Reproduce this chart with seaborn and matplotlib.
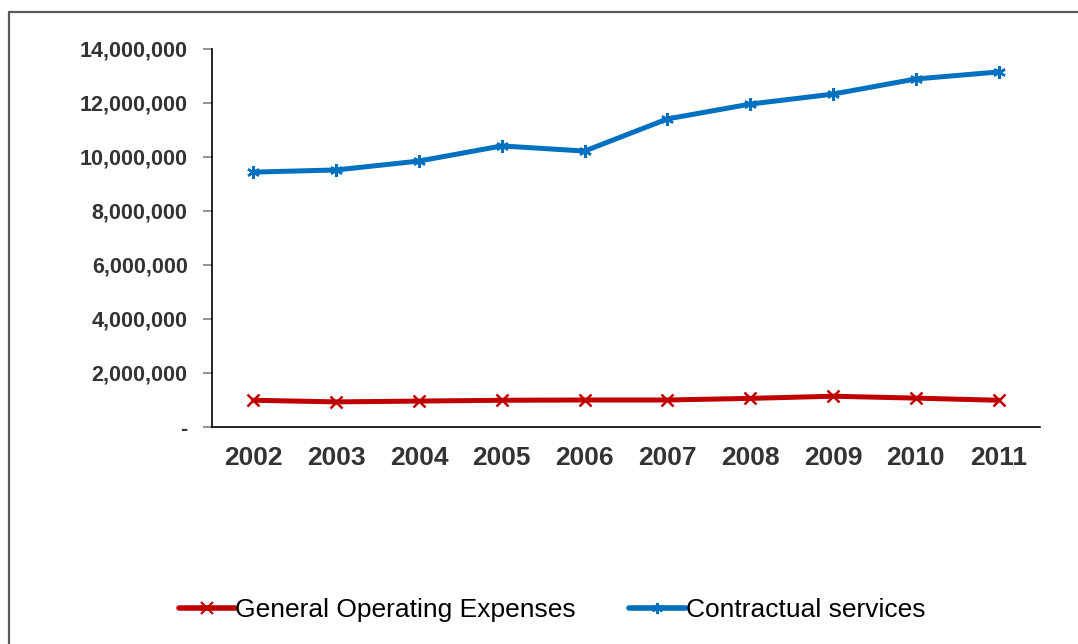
import matplotlib
matplotlib.use("Agg")
import matplotlib.pyplot as plt
from matplotlib.lines import Line2D
import seaborn as sns
import pandas as pd

years = ["2002", "2003", "2004", "2005", "2006", "2007", "2008", "2009", "2010", "2011"]
general_operating = [990000, 930000, 960000, 990000, 1000000, 1000000, 1060000, 1140000, 1070000, 990000]
contractual = [9440000, 9520000, 9850000, 10410000, 10220000, 11410000, 11960000, 12330000, 12890000, 13150000]
yticks = [0, 2000000, 4000000, 6000000, 8000000, 10000000, 12000000, 14000000]
ytick_labels = ["-", "2,000,000", "4,000,000", "6,000,000", "8,000,000", "10,000,000", "12,000,000", "14,000,000"]

series_names = ["General Operating Expenses", "Contractual services"]
colors = ["#C00000", "#0070C0"]
markers = ["x", (6, 2, 0)]

df = pd.concat([
    pd.DataFrame({"year": years, "value": general_operating, "series": series_names[0]}),
    pd.DataFrame({"year": years, "value": contractual, "series": series_names[1]}),
])

sns.set_theme(style="white")
plt.rcParams["font.family"] = ["Liberation Sans", "DejaVu Sans"]

fig = plt.figure(figsize=(10.78, 6.44), dpi=100)
ax = fig.add_axes([212 / 1078, 1 - 427 / 644, (1040 - 212) / 1078, (427 - 49) / 644])

for name, col, mk in zip(series_names, colors, markers):
    sub = df[df["series"] == name]
    sns.lineplot(data=sub, x="year", y="value", ax=ax, color=col, linewidth=3.6,
                 marker=mk, markersize=9, markeredgewidth=1.8, markeredgecolor=col,
                 sort=False, legend=False)

ax.set_xlim(-0.5, len(years) - 0.5)
ax.set_ylim(0, 14000000)
ax.set_yticks(yticks)
ax.set_yticklabels(ytick_labels, fontsize=15.5, fontweight="bold", color="#333333")
ax.set_xticks(range(len(years)))
ax.set_xticklabels(years, fontsize=19, fontweight="bold", color="#333333")
ax.set_xticks([i - 0.5 for i in range(len(years) + 1)], minor=True)
ax.tick_params(axis="x", which="major", length=0, pad=14)
ax.tick_params(axis="x", which="minor", length=7, width=1.2, color="#808080", direction="out")
ax.tick_params(axis="y", which="major", length=6.5, width=1.2, color="#808080", direction="out", pad=11, left=True)
ax.set_xlabel("")
ax.set_ylabel("")
for s in ["top", "right"]:
    ax.spines[s].set_visible(False)
for s in ["left", "bottom"]:
    ax.spines[s].set_color("black")
    ax.spines[s].set_linewidth(1.2)

handles = [Line2D([0], [0], color=c, linewidth=4, marker=m, markersize=8,
                  markeredgewidth=1.5, markeredgecolor=c) for c, m in zip(colors, markers)]
fig.legend(handles, series_names, loc="center", bbox_to_anchor=(0.512, 0.053), ncol=2,
           frameon=False, handlelength=2.15, handletextpad=0.0, columnspacing=2.0,
           labelcolor="black",
           prop={"family": ["Liberation Sans", "DejaVu Sans"], "size": 19})

# figure border (only top and left visible in reference)
fig.add_artist(Line2D([9 / 1078, 9 / 1078], [-0.01, 1 - 12 / 644], transform=fig.transFigure,
                      color="#595959", linewidth=1.6))
fig.add_artist(Line2D([9 / 1078, 1.01], [1 - 12 / 644, 1 - 12 / 644], transform=fig.transFigure,
                      color="#595959", linewidth=1.6))

fig.savefig("out.png", dpi=100)
